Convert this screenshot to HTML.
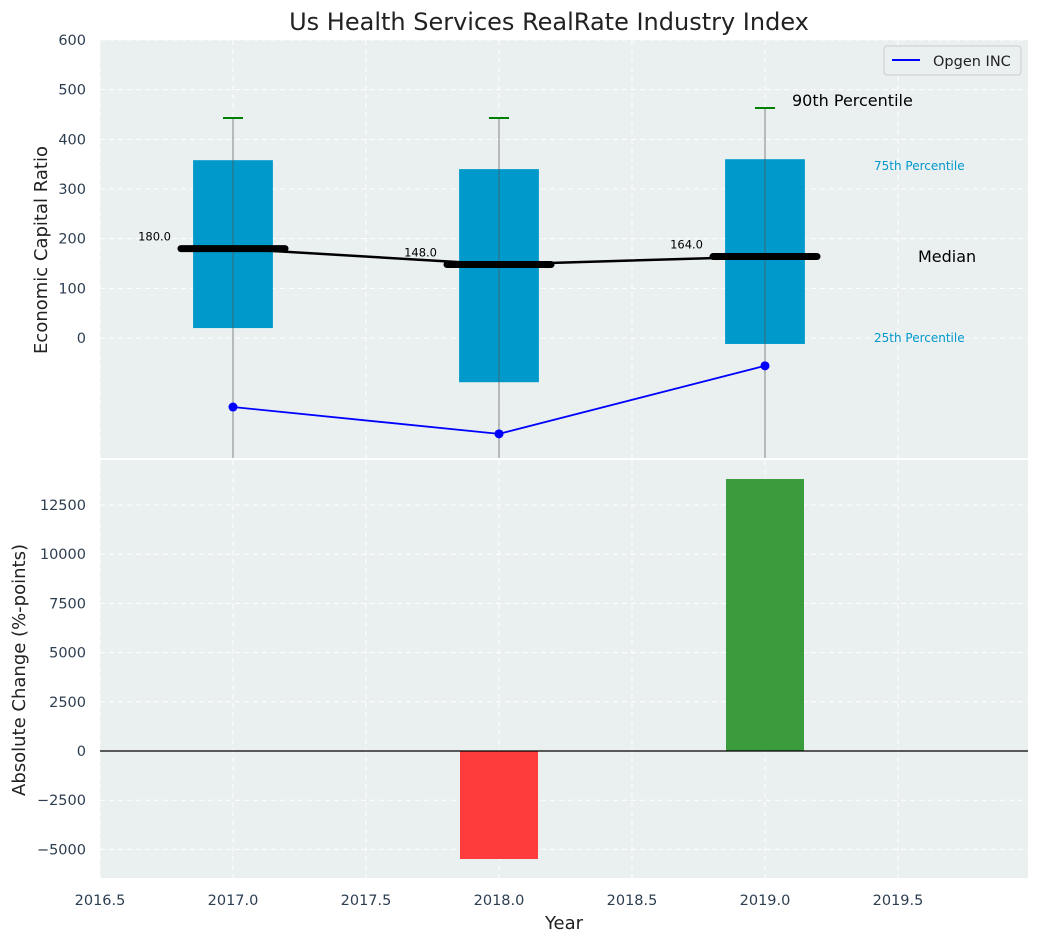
<!DOCTYPE html>
<html><head><meta charset="utf-8"><style>
body{margin:0;background:#fff;font-family:"Liberation Sans","DejaVu Sans",sans-serif;}
svg text{font-family:"DejaVu Sans","Liberation Sans",sans-serif;}
</style></head><body>
<svg id="c" width="1039" height="942" xmlns="http://www.w3.org/2000/svg"></svg>
<script>
const years=[2017,2018,2019];
const q75=[358,340,360];
const q25=[20,-89,-12];
const p90=[443,443,463];
const medians=[180,148,164];
const opgen=[-139,-193,-56];
const changes=[0,-5488,13821];
const xTicks=[2016.5,2017.0,2017.5,2018.0,2018.5,2019.0,2019.5];
const yTopTicks=[0,100,200,300,400,500,600];
const yBotTicks=[-5000,-2500,0,2500,5000,7500,10000,12500];

const NS="http://www.w3.org/2000/svg";
const svg=document.getElementById('c');
function el(t,a,p){const e=document.createElementNS(NS,t);for(const k in a)e.setAttribute(k,a[k]);(p||svg).appendChild(e);return e;}
const L=100,R=1028,T1=40,B1=458,T2=460,B2=878;
const x=v=>L+(v-2016.5)*266;
const y1=v=>338-v*298/600;
const y2=v=>751-v*246/12500;

let g=el('g',{});
el('rect',{x:L,y:T1,width:R-L,height:B1-T1,fill:'#eaeff0'},g);
let g2=el('g',{});
el('rect',{x:L,y:T2,width:R-L,height:B2-T2,fill:'#eaeff0'},g2);
xTicks.forEach(v=>{[[T1,B1],[T2,B2]].forEach(([a,b])=>el('line',{x1:x(v),x2:x(v),y1:a,y2:b,stroke:'#fff','stroke-dasharray':'5,4','stroke-width':1}));});
yTopTicks.forEach(v=>{el('line',{x1:L,x2:R,y1:y1(v),y2:y1(v),stroke:'#fff','stroke-dasharray':'5,4'});
 const t=el('text',{x:L-14,y:y1(v)+5,'text-anchor':'end','font-size':14.5,fill:'#2d3e50'});t.textContent=v;});
yBotTicks.forEach(v=>{el('line',{x1:L,x2:R,y1:y2(v),y2:y2(v),stroke:'#fff','stroke-dasharray':'5,4'});
 const t=el('text',{x:L-14,y:y2(v)+5,'text-anchor':'end','font-size':14.5,fill:'#2d3e50'});t.textContent=v<0?'\u2212'+(-v):v;});
xTicks.forEach(v=>{const t=el('text',{x:x(v),y:905,'text-anchor':'middle','font-size':14.5,fill:'#2d3e50'});t.textContent=v.toFixed(1);});
const bw=0.3*266;
years.forEach((yr,i)=>{
 const b=el('rect',{x:x(yr)-bw/2,y:y1(q75[i]),width:bw,height:y1(q25[i])-y1(q75[i]),fill:'#0099cc'});
 
 el('line',{x1:x(yr),x2:x(yr),y1:y1(p90[i]),y2:B1,stroke:'#555','stroke-width':1,opacity:0.7});
 const c=el('line',{x1:x(yr)-10,x2:x(yr)+10,y1:y1(p90[i]),y2:y1(p90[i]),stroke:'green','stroke-width':2});
 
});
el('polyline',{points:years.map((yr,i)=>x(yr)+','+y1(medians[i])).join(' '),fill:'none',stroke:'#000','stroke-width':2.5});
years.forEach((yr,i)=>{
 const m=el('line',{x1:x(yr)-52,x2:x(yr)+52,y1:y1(medians[i]),y2:y1(medians[i]),stroke:'#000','stroke-width':7,'stroke-linecap':'round'});
 
 const t=el('text',{x:x(yr)-62,y:y1(medians[i])-8,'text-anchor':'end','font-size':11.5,fill:'#000'});t.textContent=medians[i].toFixed(1);
 
});
el('polyline',{points:years.map((yr,i)=>x(yr)+','+y1(opgen[i])).join(' '),fill:'none',stroke:'blue','stroke-width':1.8});
years.forEach((yr,i)=>{const p=el('circle',{cx:x(yr),cy:y1(opgen[i]),r:4.5,fill:'blue'});});
[['90th Percentile',792,106,16,'#000'],['75th Percentile',874,170,12,'#0099cc'],['Median',918,262,16,'#000'],['25th Percentile',874,342,12,'#0099cc']].forEach(a=>{
 const t=el('text',{x:a[1],y:a[2],'font-size':a[3],fill:a[4]});t.textContent=a[0];});
const lg=el('g',{});
el('rect',{x:884,y:46,width:137,height:29,rx:3,fill:'#eaeff0',stroke:'#ccc'},lg);
el('line',{x1:892,x2:920,y1:60,y2:60,stroke:'blue','stroke-width':2},lg);
const lt=el('text',{x:933,y:66,'font-size':14.5,fill:'#222'},lg);lt.textContent='Opgen INC';
years.forEach((yr,i)=>{if(!changes[i])return;const v=changes[i];
 const b=el('rect',{x:x(yr)-39,y:Math.min(y2(0),y2(v)),width:78,height:Math.abs(y2(v)-y2(0)),fill:v<0?'#ff3c3c':'#3a9c3c'});
 });
el('line',{x1:L,x2:R,y1:y2(0),y2:y2(0),stroke:'#000','stroke-width':1.2});
const tt=el('text',{x:549,y:30,'text-anchor':'middle','font-size':24,fill:'#222'});tt.textContent='Us Health Services RealRate Industry Index';
const yt=el('text',{x:47,y:250,'text-anchor':'middle','font-size':18,fill:'#222',transform:'rotate(-90 47 250)'});yt.textContent='Economic Capital Ratio';
const yb=el('text',{x:25,y:670,'text-anchor':'middle','font-size':18,fill:'#222',transform:'rotate(-90 25 670)'});yb.textContent='Absolute Change (%-points)';
const xt=el('text',{x:564,y:929,'text-anchor':'middle','font-size':18,fill:'#222'});xt.textContent='Year';
</script>
</body></html>
